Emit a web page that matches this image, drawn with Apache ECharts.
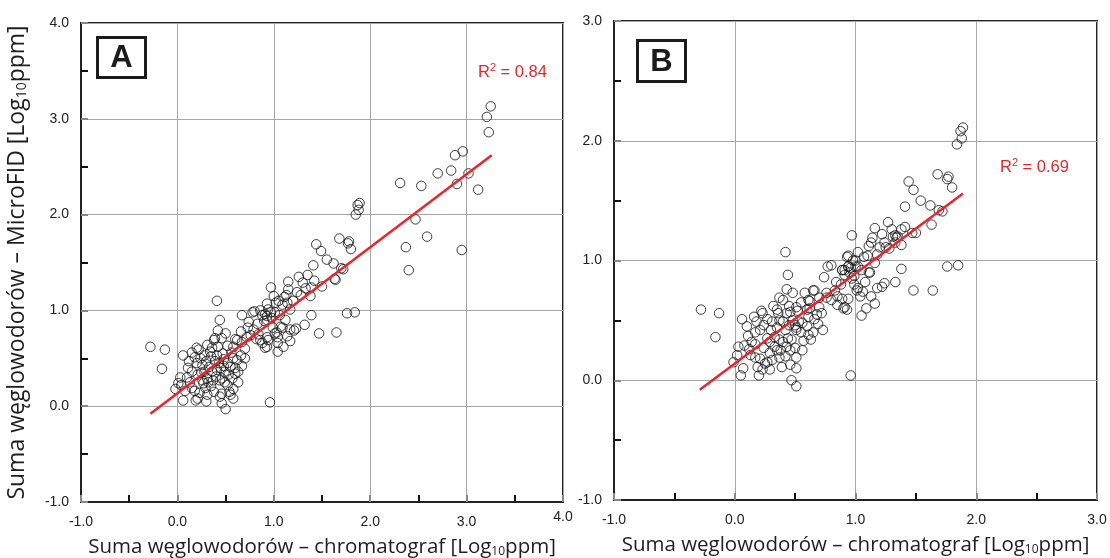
<!DOCTYPE html>
<html><head><meta charset="utf-8">
<script src="https://cdn.jsdelivr.net/npm/echarts@6/dist/echarts.min.js"></script>
<style>html,body{margin:0;padding:0;background:#fff}#c{width:1110px;height:558px}</style>
</head><body><div id="c"></div>
<script>
// ---- data ----
const panelLabels = ['A', 'B'];
const r2Values = ['0.84', '0.69'];
const xRangeA = [-1, 4], yRangeA = [-1, 4];
const xRangeB = [-1, 3], yRangeB = [-1, 3];
const xTitle = 'Suma węglowodorów – chromatograf [Log';
const yTitle = 'Suma węglowodorów – MicroFID [Log';
const fitA = [[-0.28, -0.08], [3.26, 2.62]];
const fitB = [[-0.29, -0.08], [1.89, 1.56]];
const scatterA = [
[-0.28,0.62],[-0.13,0.59],[-0.16,0.39],
[-0.02,0.18],[0.04,0.22],[0.01,0.24],[0.03,0.30],[0.06,0.06],[0.06,0.53],[0.10,0.30],[0.13,0.25],[0.11,0.40],[0.15,0.36],[0.15,0.56],[0.18,0.51],[0.15,0.19],[0.18,0.16],[0.19,0.06],[0.21,0.08],[0.20,0.45],[0.26,0.43],[0.20,0.61],[0.22,0.59],[0.21,0.33],[0.26,0.27],[0.27,0.24],[0.23,0.14],[0.29,0.19],[0.31,0.12],[0.28,0.53],[0.35,0.52],[0.31,0.64],[0.36,0.61],[0.42,0.62],[0.31,0.29],[0.32,0.25],[0.37,0.27],[0.33,0.41],[0.36,0.36],[0.41,0.38],[0.38,0.15],[0.46,0.13],[0.44,0.10],[0.46,0.03],[0.50,-0.03],[0.55,0.12],[0.54,0.15],[0.41,1.10],[0.44,0.90],[0.42,0.79],[0.50,0.76],[0.39,0.71],[0.38,0.69],[0.46,0.71],[0.41,0.53],[0.48,0.49],[0.45,0.40],[0.49,0.36],[0.44,0.27],[0.46,0.29],[0.49,0.25],[0.52,0.63],[0.55,0.41],[0.58,0.50],[0.62,0.48],[0.66,0.53],[0.60,0.40],[0.63,0.36],[0.67,0.42],[0.57,0.29],[0.60,0.34],[0.63,0.25],[0.62,0.69],[0.67,0.67],[0.66,0.78],[0.73,0.82],
[0.12,0.47],[0.24,0.50],[0.30,0.47],[0.34,0.57],[0.39,0.47],[0.43,0.45],[0.47,0.55],[0.52,0.45],[0.56,0.56],[0.58,0.62],[0.53,0.33],[0.40,0.31],[0.35,0.21],[0.25,0.35],[0.08,0.16],[0.28,0.36],[0.52,0.22],[0.58,0.18],[0.48,0.42],[0.70,0.60],[0.72,0.72],[0.79,0.80],[0.82,0.70],[0.60,0.70],[0.70,0.50],[0.58,0.08],[0.30,0.05],
[0.74,0.88],[0.76,0.74],[0.84,0.75],[0.83,0.86],[0.90,0.89],[0.93,0.90],[0.67,0.95],[0.80,0.99],[0.78,0.98],[0.88,0.95],[0.93,0.94],[0.91,0.96],[0.94,1.01],[0.97,0.98],[1.01,0.98],[0.93,1.07],[0.97,1.24],[1.02,1.08],[1.05,1.10],[1.09,1.06],[1.14,1.08],[1.11,1.14],[1.13,1.16],[1.15,1.22],[1.15,1.30],[1.17,1.01],[1.24,1.19],[1.26,1.35],[1.30,1.29],[1.33,1.23],[1.39,1.24],[1.42,1.31],[1.38,1.15],[1.50,1.25],[1.41,1.47],[1.44,1.69],[1.49,1.62],[1.55,1.53],[1.62,1.49],[1.63,1.33],[1.64,1.32],[1.70,1.44],[1.72,1.43],[1.68,1.75],[1.78,1.72],[1.77,1.70],[1.80,1.64],[1.85,2.00],[1.88,2.05],[1.87,2.10],[1.89,2.12],
[0.98,0.92],[1.06,0.95],[1.20,1.10],[1.28,1.16],[1.35,1.37],[0.86,1.00],[1.00,1.15],
[0.99,0.82],[1.03,0.77],[1.01,0.76],[1.07,0.83],[1.14,0.73],[1.17,0.68],[1.04,0.72],[1.04,0.66],[0.93,0.72],[0.94,0.69],[0.88,0.66],[0.86,0.69],[0.93,0.62],[0.91,0.61],[1.10,0.62],[1.04,0.57],[1.17,0.80],[1.21,0.79],[1.23,0.81],[1.32,0.85],[1.39,0.95],[1.47,0.76],[1.65,0.77],[1.76,0.97],[1.84,0.98],[1.12,0.90],[1.09,0.82],[0.96,0.04],
[2.31,2.33],[2.53,2.30],[2.47,1.95],[2.59,1.77],[2.37,1.66],[2.40,1.42],[2.95,1.63],[2.70,2.43],[2.84,2.46],[2.90,2.32],[3.02,2.43],[3.12,2.26],[2.88,2.62],[2.96,2.66],[3.23,2.86],[3.21,3.02],[3.25,3.13]
];
const scatterB = [
[-0.28,0.59],[-0.13,0.56],[-0.16,0.36],
[0.06,0.51],[0.03,0.28],[0.02,0.21],[-0.01,0.15],[0.05,0.04],[0.20,0.04],[0.16,0.53],[0.18,0.49],[0.22,0.58],[0.23,0.56],[0.27,0.51],[0.31,0.49],[0.21,0.42],[0.17,0.40],[0.11,0.37],[0.14,0.32],[0.17,0.30],[0.08,0.29],[0.27,0.35],[0.29,0.32],[0.33,0.36],[0.33,0.28],[0.35,0.25],[0.29,0.23],[0.13,0.21],[0.17,0.19],[0.21,0.18],[0.27,0.15],[0.25,0.14],[0.19,0.11],[0.23,0.09],[0.29,0.09],[0.37,0.19],[0.39,0.11],[0.46,0.13],[0.51,0.19],[0.51,0.10],[0.47,0.00],[0.51,-0.05],[0.37,0.34],[0.40,0.32],[0.44,0.35],[0.47,0.34],[0.46,0.25],[0.50,0.27],
[0.10,0.45],[0.24,0.46],[0.30,0.42],[0.35,0.44],[0.42,0.42],[0.45,0.46],[0.55,0.40],[0.57,0.33],[0.43,0.28],[0.38,0.25],[0.24,0.27],[0.31,0.17],[0.42,0.20],[0.56,0.25],[0.12,0.26],[0.07,0.10],
[0.32,0.62],[0.35,0.59],[0.36,0.56],[0.37,0.69],[0.40,0.67],[0.37,0.50],[0.40,0.49],[0.43,0.56],[0.48,0.50],[0.50,0.46],[0.51,0.42],[0.51,0.61],[0.43,0.76],[0.48,0.73],[0.44,0.88],[0.42,1.07],
[0.46,0.57],[0.52,0.58],[0.60,0.59],[0.61,0.53],[0.56,0.48],[0.53,0.49],[0.51,0.44],[0.66,0.51],[0.69,0.47],[0.73,0.42],[0.61,0.38],[0.63,0.34],[0.65,0.40],[0.62,0.66],[0.66,0.75],[0.70,0.69],[0.62,0.60],[0.70,0.61],[0.61,0.67],
[0.60,0.45],[0.68,0.55],[0.72,0.56],[0.80,0.67],[0.83,0.75],[0.88,0.80],[0.97,0.85],[1.05,0.92],[0.45,0.62],[0.55,0.65],[0.58,0.73],
[0.74,0.86],[0.77,0.95],[0.80,0.96],[0.84,0.82],[0.76,0.73],[0.89,0.92],[0.93,1.03],[0.94,0.95],[0.98,1.00],[1.00,0.95],[0.91,0.88],[0.95,0.90],[0.99,0.87],[0.85,0.70],[0.89,0.68],[0.91,0.61],[0.93,0.59],[0.94,0.68],[0.99,0.80],[1.01,0.75],[1.02,0.77],[1.06,0.74],[1.08,0.82],[1.11,0.90],[1.04,0.70],[1.09,0.60],[1.05,0.54],[1.13,0.70],[1.16,0.64],[1.18,0.77],[1.22,0.78],[1.24,0.81],[1.33,0.82],[1.38,0.93],[1.48,0.75],[1.64,0.75],[0.96,0.04],[0.85,0.63],[0.90,0.60],[0.76,0.69],[0.65,0.75],
[0.97,1.21],[1.02,1.07],[1.07,1.03],[1.10,1.04],[1.16,0.98],[1.12,0.90],[0.94,1.04],[1.00,1.00],[1.02,0.95],[0.94,0.95],[0.91,0.92],[0.96,0.94],[0.89,0.92],[1.14,1.19],[1.11,1.12],[1.13,1.15],[1.20,1.11],[1.24,1.15],[1.25,1.11],[1.16,1.27],[1.30,1.26],[1.33,1.21],[1.38,1.26],[1.41,1.28],[1.35,1.20],[1.38,1.13],[1.33,1.15],[1.31,1.20],[1.34,1.19],[1.47,1.23],[1.50,1.23],[1.27,1.32],[1.41,1.45],[1.44,1.66],[1.48,1.59],[1.54,1.50],[1.62,1.46],[1.69,1.42],[1.72,1.41],[1.63,1.30],[1.68,1.72],[1.76,1.68],[1.77,1.70],[1.80,1.61],[1.76,0.95],[1.85,0.96],[1.84,1.97],[1.88,2.02],[1.87,2.08],[1.89,2.11],
[1.18,1.05],[1.28,1.10],[1.22,1.22]
];

// ---- chart ----
const chart = echarts.init(document.getElementById('c'), null, {renderer: 'canvas'});
const labelFont = 'Liberation Sans, Arial, sans-serif';
const titleFont = 'Open Sans, Noto Sans, sans-serif';
function titleRich(size) {
  return {
    t: {fontFamily: titleFont, fontSize: size, color: '#1e1e1e', lineHeight: size + 6},
    s: {fontFamily: titleFont, fontSize: Math.round(size * 0.6), color: '#1e1e1e', lineHeight: size + 6, padding: [Math.round(size * 0.45), 0, 0, 0]}
  };
}
function xAxisCfg(idx, range, raiseLast) {
  return {
    gridIndex: idx, type: 'value', min: range[0], max: range[1], interval: 1,
    name: '{t|' + xTitle + '}{s|10}{t|ppm]}', nameLocation: 'middle', nameGap: 32,
    nameTextStyle: {rich: titleRich(20.5)},
    axisLine: {show: true, onZero: false, lineStyle: {color: '#222', width: 2}},
    axisTick: {show: true, inside: true, length: 7, lineStyle: {color: '#888', width: 2}},
    minorTick: {show: true, splitNumber: 2, length: 7, lineStyle: {color: '#111', width: 2}},
    splitLine: {show: true, lineStyle: {color: '#a6a6a6', width: 1}},
    axisLabel: {fontFamily: labelFont, fontSize: 14, color: '#222', margin: 8,
      formatter: v => (raiseLast && v === range[1]) ? '{up|' + v.toFixed(1) + '}' : '{n|' + v.toFixed(1) + '}',
      rich: {
        n: {fontFamily: labelFont, fontSize: 14, color: '#222', padding: [5, 0, 0, 0]},
        up: {fontFamily: labelFont, fontSize: 14, color: '#222', padding: [0, 0, 0, 0]}
      }}
  };
}
function yAxisCfg(idx, range, withName) {
  const c = {
    gridIndex: idx, type: 'value', min: range[0], max: range[1], interval: 1,
    axisLine: {show: true, onZero: false, lineStyle: {color: '#222', width: 2}},
    axisTick: {show: true, inside: true, length: 7, lineStyle: {color: '#888', width: 2}},
    minorTick: {show: true, splitNumber: 2, length: 7, lineStyle: {color: '#111', width: 2}},
    splitLine: {show: true, lineStyle: {color: '#a6a6a6', width: 1}},
    axisLabel: {fontFamily: labelFont, fontSize: 14, color: '#222', margin: 12,
      formatter: v => v.toFixed(1)}
  };
  if (withName) {
    c.name = '{t|' + yTitle + '}{s|10}{t|ppm]}';
    c.nameLocation = 'middle'; c.nameGap = 49; c.nameRotate = 90;
    c.nameTextStyle = {rich: titleRich(23)};
  }
  return c;
}
const symStyle = {color: 'rgba(0,0,0,0)', borderColor: '#111', borderWidth: 1};
function panelGraphic(x, y, w, h, letter) {
  return {type: 'group', left: x, top: y, children: [
    {type: 'rect', shape: {x: 0, y: 0, width: w, height: h}, style: {fill: '#fff', stroke: '#1b1b1b', lineWidth: 3}},
    {type: 'text', x: w / 2, y: h / 2 + 1, style: {text: letter, fontFamily: labelFont, fontWeight: 'bold', fontSize: 31, fill: '#1b1b1b', align: 'center', verticalAlign: 'middle'}}
  ]};
}
function r2Graphic(x, y, val) {
  return {type: 'text', left: x, top: y, style: {
    text: '{r|R}{p|2}{r| = ' + val + '}',
    rich: {r: {fontFamily: labelFont, fontSize: 16.5, fill: '#e8262b', lineHeight: 22},
           p: {fontFamily: labelFont, fontSize: 11, fill: '#e8262b', lineHeight: 22, padding: [0, 0, 9, 0]}}
  }};
}
chart.setOption({
  animation: false,
  grid: [
    {left: 81, top: 23, width: 482, height: 479, show: true, borderColor: '#222', borderWidth: 2, containLabel: false, outerBoundsMode: 'none'},
    {left: 614, top: 21, width: 483, height: 479, show: true, borderColor: '#222', borderWidth: 2, containLabel: false, outerBoundsMode: 'none'}
  ],
  xAxis: [xAxisCfg(0, xRangeA, true), xAxisCfg(1, xRangeB, false)],
  yAxis: [yAxisCfg(0, yRangeA, true), yAxisCfg(1, yRangeB, false)],
  series: [
    {type: 'scatter', xAxisIndex: 0, yAxisIndex: 0, data: scatterA, symbol: 'circle', symbolSize: 9.5, itemStyle: symStyle, z: 3},
    {type: 'line', xAxisIndex: 0, yAxisIndex: 0, data: fitA, showSymbol: false, lineStyle: {color: '#e8262b', width: 2.5}, z: 4},
    {type: 'scatter', xAxisIndex: 1, yAxisIndex: 1, data: scatterB, symbol: 'circle', symbolSize: 9.5, itemStyle: symStyle, z: 3},
    {type: 'line', xAxisIndex: 1, yAxisIndex: 1, data: fitB, showSymbol: false, lineStyle: {color: '#e8262b', width: 2.5}, z: 4}
  ],
  graphic: [
    panelGraphic(96, 36, 48, 40, panelLabels[0]),
    panelGraphic(636, 39, 48, 41, panelLabels[1]),
    r2Graphic(478, 62, r2Values[0]),
    r2Graphic(1000, 157, r2Values[1])
  ]
});
</script></body></html>
